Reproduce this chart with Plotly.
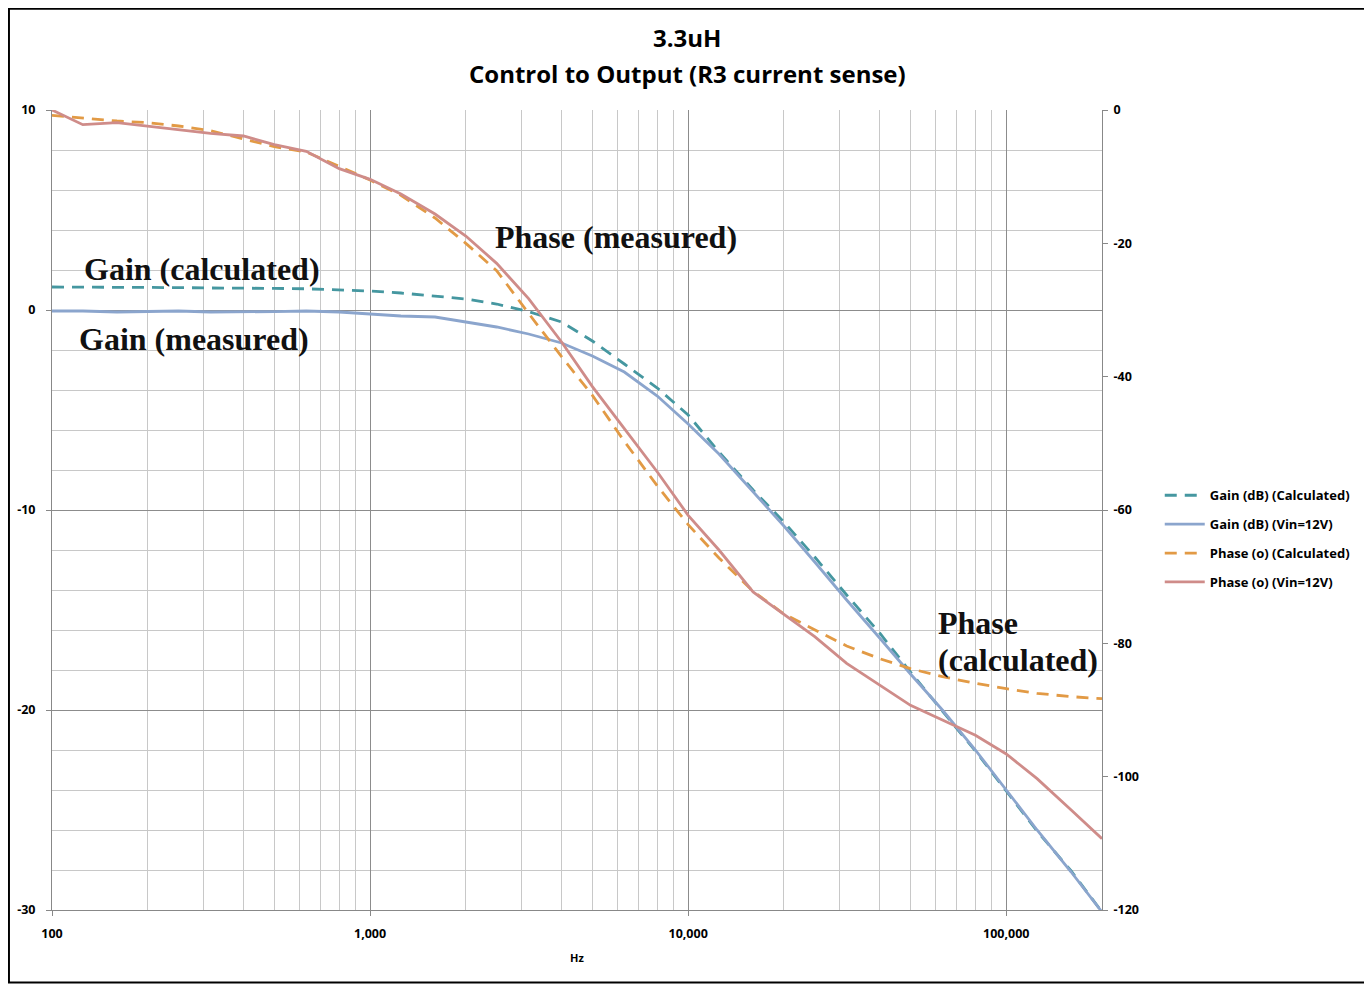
import math
import plotly.graph_objects as go

# ---------------- data ----------------
freq_hz = [100, 125, 160, 200, 250, 315, 400, 500, 630, 800,
           1000, 1250, 1600, 2000, 2500, 3150, 4000, 5000, 6300, 8000,
           10000, 12500, 16000, 20000, 25000, 31500, 40000, 50000, 63000, 80000,
           100000, 125000, 160000, 200000]

gain_calc_db = [1.15, 1.15, 1.15, 1.12, 1.12, 1.10, 1.10, 1.08, 1.06, 1.02,
                0.95, 0.85, 0.70, 0.55, 0.30, -0.08, -0.60, -1.55, -2.70, -3.90,
                -5.25, -7.10, -9.00, -10.60, -12.35, -14.25, -16.15, -18.10, -20.05, -22.05,
                -24.05, -26.05, -28.05, -30.10]

gain_meas_db = [-0.05, -0.05, -0.10, -0.08, -0.05, -0.10, -0.10, -0.08, -0.05, -0.10,
                -0.20, -0.30, -0.35, -0.60, -0.85, -1.20, -1.65, -2.30, -3.10, -4.30,
                -5.70, -7.20, -9.10, -10.80, -12.60, -14.50, -16.40, -18.20, -20.00, -22.00,
                -24.00, -26.00, -28.10, -30.10]

phase_calc_deg = [-0.8, -1.2, -1.65, -1.9, -2.4, -3.1, -4.4, -5.5, -6.3, -8.5,
                  -10.5, -12.8, -16.2, -20.0, -24.1, -30.5, -37.0, -42.8, -49.7, -56.4,
                  -62.2, -67.2, -72.2, -75.6, -78.0, -80.4, -82.3, -83.8, -85.0, -86.0,
                  -86.8, -87.5, -88.0, -88.3]

phase_meas_deg = [0.0, -2.2, -1.9, -2.4, -3.0, -3.5, -3.9, -5.2, -6.2, -8.8,
                  -10.4, -12.6, -15.6, -18.9, -23.0, -28.3, -34.8, -41.5, -47.8, -54.3,
                  -60.8, -66.0, -72.3, -75.6, -79.0, -83.0, -86.2, -89.3, -91.5, -93.8,
                  -96.6, -100.3, -105.0, -109.3]

series_names = ["Gain (dB) (Calculated)", "Gain (dB) (Vin=12V)",
                "Phase (o) (Calculated)", "Phase (o) (Vin=12V)"]

x_tick_vals = [100, 1000, 10000, 100000]
x_tick_text = ["100", "1,000", "10,000", "100,000"]
left_tick_vals = [10, 0, -10, -20, -30]
left_tick_text = ["10", "0", "-10", "-20", "-30"]
right_tick_vals = [0, -20, -40, -60, -80, -100, -120]
right_tick_text = ["0", "-20", "-40", "-60", "-80", "-100", "-120"]

title_lines = ["3.3uH", "Control to Output (R3 current sense)"]

# ---------------- figure ----------------
TEAL = "#4597a0"
BLUE = "#8ba5cd"
ORANGE = "#e29a45"
RED = "#cf8c89"
LW = 2.8
DASH = "12px,8px"
SANS = "Open Sans"

fig = go.Figure()
fig.add_trace(go.Scatter(x=freq_hz, y=gain_calc_db, name=series_names[0], mode="lines",
                         line=dict(color=TEAL, width=LW, dash=DASH), legendgroup="a"))
fig.add_trace(go.Scatter(x=freq_hz, y=gain_meas_db, name=series_names[1], mode="lines",
                         line=dict(color=BLUE, width=LW), legendgroup="b"))
fig.add_trace(go.Scatter(x=freq_hz, y=phase_calc_deg, name=series_names[2], mode="lines",
                         line=dict(color=ORANGE, width=LW, dash=DASH), legendgroup="c",
                         yaxis="y2"))
fig.add_trace(go.Scatter(x=freq_hz, y=phase_meas_deg, name=series_names[3], mode="lines",
                         line=dict(color=RED, width=LW), legendgroup="d",
                         yaxis="y2"))

tick_font = dict(family=SANS, size=12.5, color="#000000", weight="bold")

# page body adds an 8px offset; plot area is 1050 x 800
fig.update_layout(
    width=1364, height=976,
    margin=dict(l=44, r=270, t=102, b=74, autoexpand=False),
    paper_bgcolor="white", plot_bgcolor="white",
    showlegend=True,
    legend=dict(x=1.055, y=0.464, xanchor="left", yanchor="middle",
                font=dict(family=SANS, size=13, color="#000000", weight="bold"),
                tracegroupgap=9, traceorder="grouped", itemwidth=40,
                bgcolor="rgba(0,0,0,0)"),
    xaxis=dict(type="log", range=[2, math.log10(200000)], automargin=False,
               tickvals=x_tick_vals, ticktext=x_tick_text,
               tickfont=tick_font, ticks="outside", ticklen=5, tickcolor="#888888",
               showline=True, linecolor="#888888", linewidth=1,
               showgrid=True, gridcolor="#8c8c8c", gridwidth=1,
               minor=dict(dtick="D1", showgrid=True, gridcolor="#c8c8c8", gridwidth=1,
                          ticks=""),
               title=dict(text="Hz", font=dict(family=SANS, size=11, color="#000000",
                                               weight="bold"),
                          standoff=13),
               zeroline=False, ticklabelstandoff=7),
    yaxis=dict(range=[-30, 10], tickvals=left_tick_vals, ticktext=left_tick_text,
               automargin=False,
               tickfont=tick_font, ticks="outside", ticklen=5, tickcolor="#888888",
               showline=True, linecolor="#888888", linewidth=1,
               showgrid=True, gridcolor="#8c8c8c", gridwidth=1,
               minor=dict(dtick=2, showgrid=True, gridcolor="#c8c8c8", gridwidth=1,
                          ticks=""),
               zeroline=False, ticklabelstandoff=8),
    yaxis2=dict(range=[-120, 0], tickvals=right_tick_vals, ticktext=right_tick_text,
                overlaying="y", side="right", automargin=False,
                tickfont=tick_font, ticks="outside", ticklen=5, tickcolor="#888888",
                showline=True, linecolor="#888888", linewidth=1,
                showgrid=False, zeroline=False, ticklabelstandoff=3),
)

# chart title (two lines)
fig.add_annotation(x=0.605, y=1.09, xref="paper", yref="paper", text=title_lines[0],
                   showarrow=False, xanchor="center", yanchor="middle",
                   font=dict(family=SANS, size=24, color="#000000", weight="bold"))
fig.add_annotation(x=0.605, y=1.046, xref="paper", yref="paper", text=title_lines[1],
                   showarrow=False, xanchor="center", yanchor="middle",
                   font=dict(family=SANS, size=24, color="#000000", weight="bold"))

# curve labels
ann_font = dict(family="Liberation Serif", size=32, color="#111111", weight="bold")
labels = [
    ("Gain (calculated)", 124, 2.05),
    ("Gain (measured)", 120, -1.45),
    ("Phase (measured)", 2430, 3.65),
    ("Phase", 60300, -15.65),
    ("(calculated)", 60300, -17.5),
]
for txt, fx, gy in labels:
    fig.add_annotation(x=math.log10(fx), y=gy, xref="x", yref="y", text=txt,
                       showarrow=False, xanchor="left", yanchor="middle", font=ann_font)

# outer frame of the chart
fig.add_shape(type="rect", xref="paper", yref="paper",
              x0=-0.0410, x1=1.2515, y0=-0.0906, y1=1.1265,
              line=dict(color="#000000", width=2), fillcolor="rgba(0,0,0,0)", layer="below")

fig.write_html("out.html")
